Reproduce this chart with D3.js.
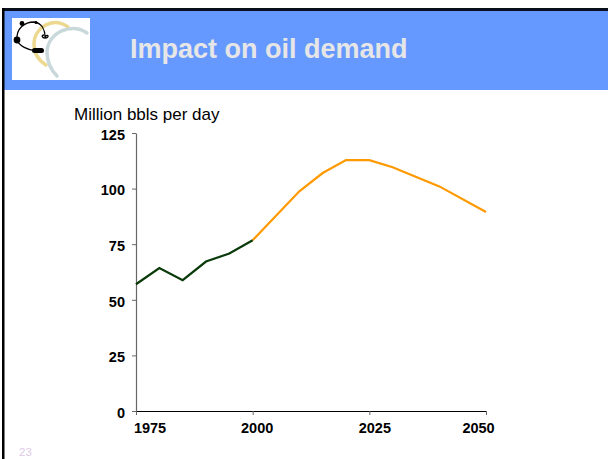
<!DOCTYPE html>
<html lang="en">
<head>
    <meta charset="UTF-8">
    <title>Impact on oil demand</title>
    <script src="https://d3js.org/d3.v7.min.js"></script>
    <style>
        html, body { margin: 0; padding: 0; background: #fff; }
        svg { display: block; }
        svg text { font-family: "Liberation Sans", Arial, sans-serif; }
    </style>
</head>
<body>
    <svg id="chart" width="608" height="459"></svg>

    <script>
        // Values
        const histYears = [1975, 1980, 1985, 1990, 1995, 2000];
        const histValues = [57, 64.3, 58.8, 67.2, 70.8, 76.8];
        const projYears = [2000, 2010, 2015, 2020, 2025, 2030, 2040, 2050];
        const projValues = [76.8, 98.8, 107, 112.8, 112.8, 109.6, 101, 89.5];
        const yTicks = [0, 25, 50, 75, 100, 125];
        const xTicks = [1975, 2000, 2025, 2050];

        const svg = d3.select("#chart");

        // Slide frame and header
        svg.append("rect").attr("x", 4).attr("y", 10).attr("width", 604).attr("height", 80).attr("fill", "#6699ff");
        svg.append("rect").attr("x", 2).attr("y", 8).attr("width", 606).attr("height", 3).attr("fill", "#0a0f1e");
        svg.append("rect").attr("x", 2).attr("y", 8).attr("width", 2.5).attr("height", 451).attr("fill", "#000");

        // Logo
        const logo = svg.append("g");
        logo.append("rect").attr("x", 12).attr("y", 18).attr("width", 78).attr("height", 62).attr("fill", "#fff");
        logo.append("path").attr("d", "M68 27 C52 16 34 28 34 44 C34 53 38 60 46 65")
            .attr("fill", "none").attr("stroke", "#ecd98f").attr("stroke-width", 3.5).attr("stroke-linecap", "round");
        logo.append("path").attr("d", "M87 33 C72 22 48 32 47 52 C47 62 51 70 57 76")
            .attr("fill", "none").attr("stroke", "#c9d8da").attr("stroke-width", 3.5).attr("stroke-linecap", "round");
        logo.append("path").attr("d", "M17 40 C16 28 25 22 34 22 C42 23 45 30 45 37 M17 40 C19 46 28 50 36 51 M45 37 C48 33 50 38 45 38 C42 38 41 35 44 35")
            .attr("fill", "none").attr("stroke", "#000").attr("stroke-width", 1.3);
        logo.append("circle").attr("cx", 17).attr("cy", 40).attr("r", 3.4).attr("fill", "#000");
        logo.append("circle").attr("cx", 22).attr("cy", 23.5).attr("r", 2.4).attr("fill", "#000");
        logo.append("circle").attr("cx", 36).attr("cy", 22.5).attr("r", 1.5).attr("fill", "#000");
        logo.append("rect").attr("x", 32).attr("y", 48).attr("width", 12).attr("height", 5).attr("rx", 2.5).attr("fill", "#000");

        svg.append("text").attr("x", 130).attr("y", 58)
           .attr("font-size", "27px").attr("font-weight", "bold").attr("fill", "#e6e6e6")
           .text("Impact on oil demand");

        // Scales
        const x = d3.scaleLinear().domain([1975, 2050]).range([136, 486]);
        const y = d3.scaleLinear().domain([0, 125]).range([411, 133]);

        // Axes
        const yAxis = svg.append("g")
            .attr("transform", "translate(136,0)")
            .call(d3.axisLeft(y).tickValues(yTicks).tickSize(4).tickSizeOuter(0));
        yAxis.select(".domain").attr("stroke", "#666").attr("stroke-width", 1.2);
        yAxis.selectAll(".tick line").attr("stroke", "#666");
        yAxis.selectAll("text")
             .attr("x", -11).attr("dy", "0.43em")
             .attr("font-family", "Liberation Sans").attr("font-size", "14.5px").attr("font-weight", "bold").attr("fill", "#000");

        // Labels in the source sit off their ticks
        const xLabelShift = [13.5, 4, 5, -8];
        const xAxis = svg.append("g")
            .attr("transform", "translate(0,411)")
            .call(d3.axisBottom(x).tickValues(xTicks).tickFormat(d3.format("d")).tickSize(4).tickSizeOuter(0));
        xAxis.select(".domain").attr("stroke", "#000").attr("stroke-width", 1.2);
        xAxis.selectAll(".tick line").attr("stroke", "#666");
        xAxis.selectAll("text")
             .attr("y", 12).attr("dx", (d, i) => xLabelShift[i])
             .attr("font-family", "Liberation Sans").attr("font-size", "14.5px").attr("font-weight", "bold").attr("fill", "#000");

        svg.append("text").attr("x", 74).attr("y", 120)
           .attr("font-size", "17px").attr("fill", "#000")
           .text("Million bbls per day");

        // Lines
        const line = d3.line().x(d => x(d[0])).y(d => y(d[1]));
        svg.append("path")
           .datum(d3.zip(projYears, projValues))
           .attr("fill", "none").attr("stroke", "#ff9900").attr("stroke-width", 2.2)
           .attr("d", line);
        svg.append("path")
           .datum(d3.zip(histYears, histValues))
           .attr("fill", "none").attr("stroke", "#0a3a0a").attr("stroke-width", 2.2)
           .attr("d", line);

        // Slide number
        svg.append("text").attr("x", 19).attr("y", 456)
           .attr("font-size", "11.5px").attr("font-weight", "normal").attr("fill", "#e0c8e6")
           .text("23");
    </script>
</body>
</html>
